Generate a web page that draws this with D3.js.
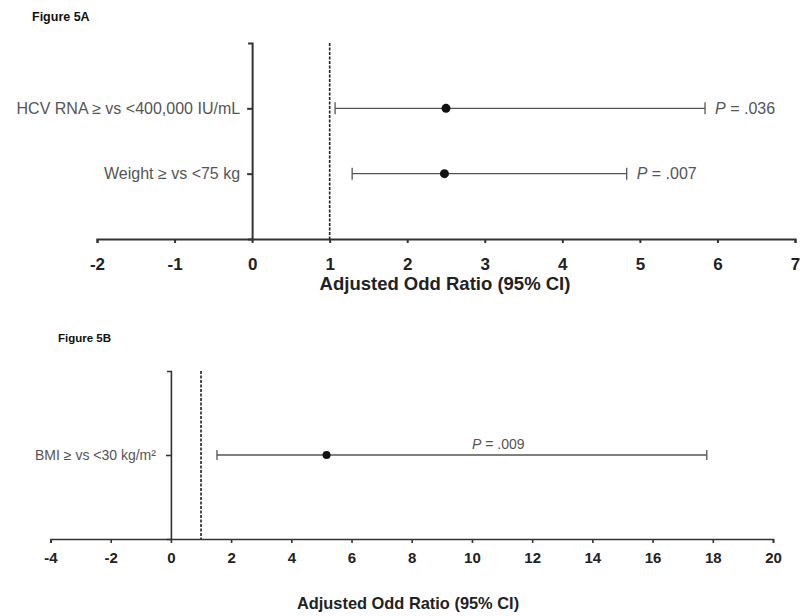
<!DOCTYPE html>
<html>
<head>
<meta charset="utf-8">
<script src="https://cdn.jsdelivr.net/npm/d3@7"></script>
<style>
  body { margin: 0; background: #fff; }
  svg { font-family: "Liberation Sans", Arial, sans-serif; }
  .fig-title { font-weight: bold; fill: #111; }
  .axis-label { font-weight: bold; fill: #222; }
</style>
</head>
<body>
<div id="chart"></div>
<script>
// Figure 5A data
const catsA = ["HCV RNA ≥ vs <400,000 IU/mL", "Weight ≥ vs <75 kg"];
const orA = [2.5, 2.48];
const lowA = [1.07, 1.29];
const highA = [5.84, 4.83];
const pA = [".036", ".007"];
const ticksA = [-2, -1, 0, 1, 2, 3, 4, 5, 6, 7];

// Figure 5B data
const catsB = ["BMI ≥ vs <30 kg/m²"];
const orB = [5.17];
const lowB = [1.53];
const highB = [17.8];
const pB = [".009"];
const ticksB = [-4, -2, 0, 2, 4, 6, 8, 10, 12, 14, 16, 18, 20];

const svg = d3.select("#chart")
    .append("svg")
    .attr("width", 802)
    .attr("height", 616);

function panel(opt) {
    const x = d3.scaleLinear().domain(opt.xDomain).range(opt.xRange);
    const y = d3.scalePoint().domain(opt.cats).range(opt.yRange).padding(1);

    const g = svg.append("g");

    // x axis
    const xa = g.append("g")
        .attr("transform", `translate(0,${opt.yRange[1]})`)
        .call(d3.axisBottom(x).tickValues(opt.ticks).tickSize(4).tickPadding(opt.tickPad)
            .tickFormat(d3.format("d")));
    xa.select(".domain").attr("stroke", "#333").attr("stroke-width", opt.axisW);
    xa.selectAll(".tick line").attr("stroke", "#333").attr("stroke-width", opt.axisW);
    xa.selectAll(".tick text")
        .attr("font-size", opt.tickFont)
        .attr("font-weight", "bold")
        .attr("fill", "#222")
        .text(d => d < 0 ? "-" + Math.abs(d) : d);

    // y axis at 0
    const ya = g.append("g")
        .attr("transform", `translate(${x(0)},0)`)
        .call(d3.axisLeft(y).tickSizeInner(5).tickSizeOuter(4).tickPadding(opt.catPad));
    ya.select(".domain").attr("stroke", "#333").attr("stroke-width", opt.axisW);
    ya.selectAll(".tick line").attr("stroke", "#333").attr("stroke-width", opt.axisW);
    ya.selectAll(".tick text")
        .attr("font-size", opt.catFont)
        .attr("fill", "#555");

    // reference line at OR = 1
    g.append("line")
        .attr("x1", x(1)).attr("x2", x(1))
        .attr("y1", opt.yRange[0]).attr("y2", opt.yRange[1])
        .attr("stroke", "#222")
        .attr("stroke-width", 1.6)
        .attr("stroke-dasharray", "3,1.5");

    const rows = opt.cats.map((c, i) => ({ cat: c, or: opt.or[i], lo: opt.lo[i], hi: opt.hi[i], p: opt.p[i] }));

    const r = g.selectAll(".row").data(rows).enter().append("g").attr("class", "row");

    r.append("line")
        .attr("x1", d => x(d.lo)).attr("x2", d => x(d.hi))
        .attr("y1", d => y(d.cat)).attr("y2", d => y(d.cat))
        .attr("stroke", "#555").attr("stroke-width", 1.3);

    ["lo", "hi"].forEach(k => {
        r.append("line")
            .attr("x1", d => x(d[k])).attr("x2", d => x(d[k]))
            .attr("y1", d => y(d.cat) - opt.cap).attr("y2", d => y(d.cat) + opt.cap)
            .attr("stroke", "#555").attr("stroke-width", 1.3);
    });

    r.append("circle")
        .attr("cx", d => x(d.or)).attr("cy", d => y(d.cat))
        .attr("r", opt.dot)
        .attr("fill", "#111");

    // P values
    const pt = r.append("text")
        .attr("font-size", opt.pFont)
        .attr("fill", "#555")
        .attr("dy", "0.35em");
    if (opt.pAbove) {
        pt.attr("x", opt.pX).attr("y", d => y(d.cat) - 11);
    } else {
        pt.attr("x", d => x(d.hi) + 10).attr("y", d => y(d.cat));
    }
    pt.append("tspan").attr("font-style", "italic").text("P");
    pt.append("tspan").text(d => " = " + d.p);

    // axis label
    g.append("text")
        .attr("class", "axis-label")
        .attr("x", opt.labelX)
        .attr("y", opt.labelY)
        .attr("text-anchor", "middle")
        .attr("font-size", opt.labelFont)
        .text("Adjusted Odd Ratio (95% CI)");

    // figure title
    g.append("text")
        .attr("class", "fig-title")
        .attr("x", opt.titleX)
        .attr("y", opt.titleY)
        .attr("font-size", opt.titleFont)
        .text(opt.title);
}

panel({
    cats: catsA, or: orA, lo: lowA, hi: highA, p: pA, ticks: ticksA,
    xDomain: [-2, 7], xRange: [97, 795], yRange: [43, 239],
    axisW: 2, tickFont: 17, tickPad: 15, catFont: 16, catPad: 7, pFont: 16,
    cap: 6, dot: 4.5, pAbove: false,
    labelX: 445, labelY: 290, labelFont: 18.5,
    title: "Figure 5A", titleX: 32, titleY: 21, titleFont: 12.5
});

panel({
    cats: catsB, or: orB, lo: lowB, hi: highB, p: pB, ticks: ticksB,
    xDomain: [-4, 20], xRange: [50.5, 773], yRange: [371, 539],
    axisW: 1.6, tickFont: 15, tickPad: 9, catFont: 14, catPad: 10, pFont: 14,
    cap: 5, dot: 4, pAbove: true, pX: 472,
    labelX: 408, labelY: 609, labelFont: 16.4,
    title: "Figure 5B", titleX: 58, titleY: 342, titleFont: 11.5
});
</script>
</body>
</html>
